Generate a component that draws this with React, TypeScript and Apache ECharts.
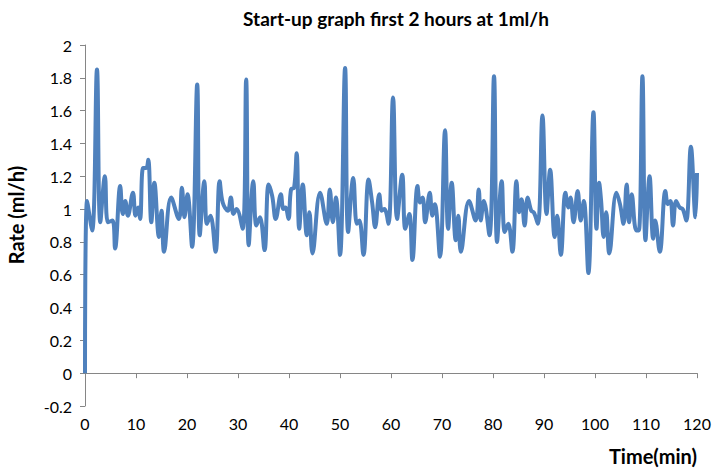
import React, { useEffect, useRef } from "react";
import * as echarts from "echarts";

const timeMin: number[] = [
  0, 0.4, 1.4, 2.35, 3.0, 3.9, 4.5, 5.4, 5.9, 6.9, 7.4, 7.9, 8.4, 9.4, 9.9, 10.4, 10.8, 11.4, 12.0, 12.4,
  13.0, 13.6, 14.5, 15.0, 15.5, 16.9, 18.4, 19.0, 19.5, 20.1, 21.0, 22.0, 22.5, 23.4, 23.9, 24.6, 25.6, 26.4,
  27.0, 28.0, 28.6, 29.1, 29.7,
  30.9, 31.6, 32.1, 33.0, 33.6, 34.3, 35.2, 36.0, 36.7, 37.4, 38.4, 38.9, 39.3, 39.9, 40.4, 41.0, 41.5, 42.0,
  42.7, 43.5, 44.0, 44.6, 46.1, 47.4, 48.0, 48.6, 49.2, 50.0, 51.0, 51.6, 52.6, 53.3, 53.8, 54.6, 55.6, 56.3,
  56.9, 57.7, 58.2, 58.7, 59.5, 60.4,
  61.2, 62.2, 62.8, 63.6, 64.2, 65.2, 65.7, 66.2, 66.7, 67.6, 68.1, 68.6, 69.6, 70.6, 71.2, 71.9, 72.7, 73.2,
  73.7, 75.3, 76.6, 77.2, 77.6, 78.2, 79.3, 80.2, 80.8, 81.7, 82.3, 83.0, 83.8, 84.6, 85.1, 85.6, 86.2, 86.8,
  87.5, 88.0, 88.8, 89.7,
  90.5, 91.2, 92.1, 92.6, 93.3, 94.2, 94.8, 95.2, 95.8, 96.6, 97.2, 97.8, 98.7, 99.7, 100.3, 100.8, 101.2,
  101.7, 102.2, 102.8, 104.2, 104.9, 105.6, 106.2, 106.7, 107.2, 108.1, 108.6, 109.3, 109.9, 110.7, 111.4,
  111.8, 112.7, 113.8, 114.3, 114.8, 115.3, 115.9, 116.6, 117.2, 117.9, 118.8, 119.7, 120.0,
];

const rate: number[] = [
  0, 1.05, 0.87, 1.85, 0.92, 1.2, 0.92, 0.93, 0.76, 1.14, 0.97, 1.05, 0.96, 1.1, 0.96, 1.01, 0.94, 1.25, 1.25, 1.3,
  0.92, 1.16, 0.83, 0.99, 0.74, 1.07, 0.94, 1.13, 0.95, 1.09, 0.77, 1.76, 0.84, 1.17, 0.91, 0.96, 0.74, 1.17,
  1.04, 0.99, 1.07, 0.97, 1.0,
  0.88, 1.79, 0.78, 1.17, 0.9, 0.95, 0.75, 1.15, 1.08, 0.94, 1.09, 1.0, 1.01, 0.94, 1.12, 1.13, 1.34, 0.88,
  1.15, 0.84, 0.98, 0.73, 1.1, 0.91, 1.12, 0.92, 1.07, 0.72, 1.86, 0.86, 1.19, 0.91, 0.93, 0.72, 1.18, 1.04,
  0.89, 1.09, 0.99, 1.0, 0.91, 1.68,
  0.94, 1.21, 0.88, 0.97, 0.69, 1.14, 1.04, 1.07, 0.92, 1.1, 0.96, 1.03, 0.71, 1.48, 0.88, 1.16, 0.81, 0.96,
  0.74, 1.05, 0.93, 1.12, 0.93, 1.05, 0.84, 1.81, 0.8, 1.17, 0.86, 0.91, 0.74, 1.17, 0.98, 1.06, 0.9, 1.07,
  0.99, 0.98, 0.91, 1.57,
  0.97, 1.24, 0.83, 0.96, 0.72, 1.1, 1.01, 1.07, 0.92, 1.11, 0.93, 1.05, 0.61, 1.59, 0.88, 1.16, 1.05,
  0.83, 0.98, 0.73, 1.1, 1.03, 0.91, 1.15, 0.92, 1.09, 0.87, 0.87, 1.81, 0.81, 1.2, 0.82,
  0.93, 0.74, 1.11, 1.03, 1.05, 0.9, 1.05, 1.01, 1.0, 0.93, 1.38, 0.95, 1.22,
];

const titleText = "Start-up graph first 2 hours at 1ml/h";
const xAxisName = "Time(min)";
const yAxisName = "Rate (ml/h)";

export default function App() {
  const ref = useRef<HTMLDivElement>(null);
  useEffect(() => {
    if (!ref.current) return;
    const chart = echarts.init(ref.current, null, { renderer: "svg" });
    const font = "Lato, 'Open Sans', sans-serif";
    const axisColor = "#868686";
    chart.setOption({
      animation: false,
      backgroundColor: "#ffffff",
      title: {
        text: titleText,
        left: 391,
        textAlign: "center",
        top: 4,
        textStyle: { fontFamily: font, fontSize: 19, fontWeight: "bold", color: "#000" },
      },
      grid: { left: 85, right: 21, top: 45, bottom: 64, containLabel: false, outerBoundsMode: "none" },
      graphic: [
        {
          type: "text",
          x: 16,
          y: 215,
          rotation: Math.PI / 2,
          style: {
            text: yAxisName,
            fontFamily: font,
            fontSize: 20,
            fontWeight: "bold",
            fill: "#000",
            textAlign: "center",
            textVerticalAlign: "middle",
          },
        },
        {
          type: "text",
          x: 697,
          y: 456,
          style: {
            text: xAxisName,
            fontFamily: font,
            fontSize: 20,
            fontWeight: "bold",
            fill: "#000",
            textAlign: "right",
            textVerticalAlign: "middle",
          },
        },
      ],
      xAxis: {
        type: "value",
        min: 0,
        max: 120,
        interval: 10,
        axisLine: { show: true, lineStyle: { color: axisColor, width: 1 } },
        axisTick: { show: true, length: 5, lineStyle: { color: axisColor } },
        axisLabel: { fontFamily: font, fontSize: 16, color: "#000", margin: 9 },
        splitLine: { show: false },
      },
      yAxis: {
        type: "value",
        min: -0.2,
        max: 2,
        interval: 0.2,
        axisLine: { show: true, lineStyle: { color: axisColor, width: 1 } },
        axisTick: { show: true, length: 5, lineStyle: { color: axisColor } },
        axisLabel: {
          fontFamily: font,
          fontSize: 16,
          color: "#000",
          margin: 13,
          formatter: (v: number) => String(Math.round(v * 10) / 10),
        },
        splitLine: { show: false },
      },
      series: [
        {
          type: "line",
          data: timeMin.map((t, i) => [t, rate[i]]),
          smooth: 0.4,
          showSymbol: false,
          symbol: "none",
          lineStyle: { color: "#4F81BD", width: 4 },
        },
      ],
    });
    return () => chart.dispose();
  }, []);
  return (
    <div
      ref={ref}
      style={{ position: "absolute", left: 0, top: 0, width: 718, height: 470 }}
    />
  );
}
